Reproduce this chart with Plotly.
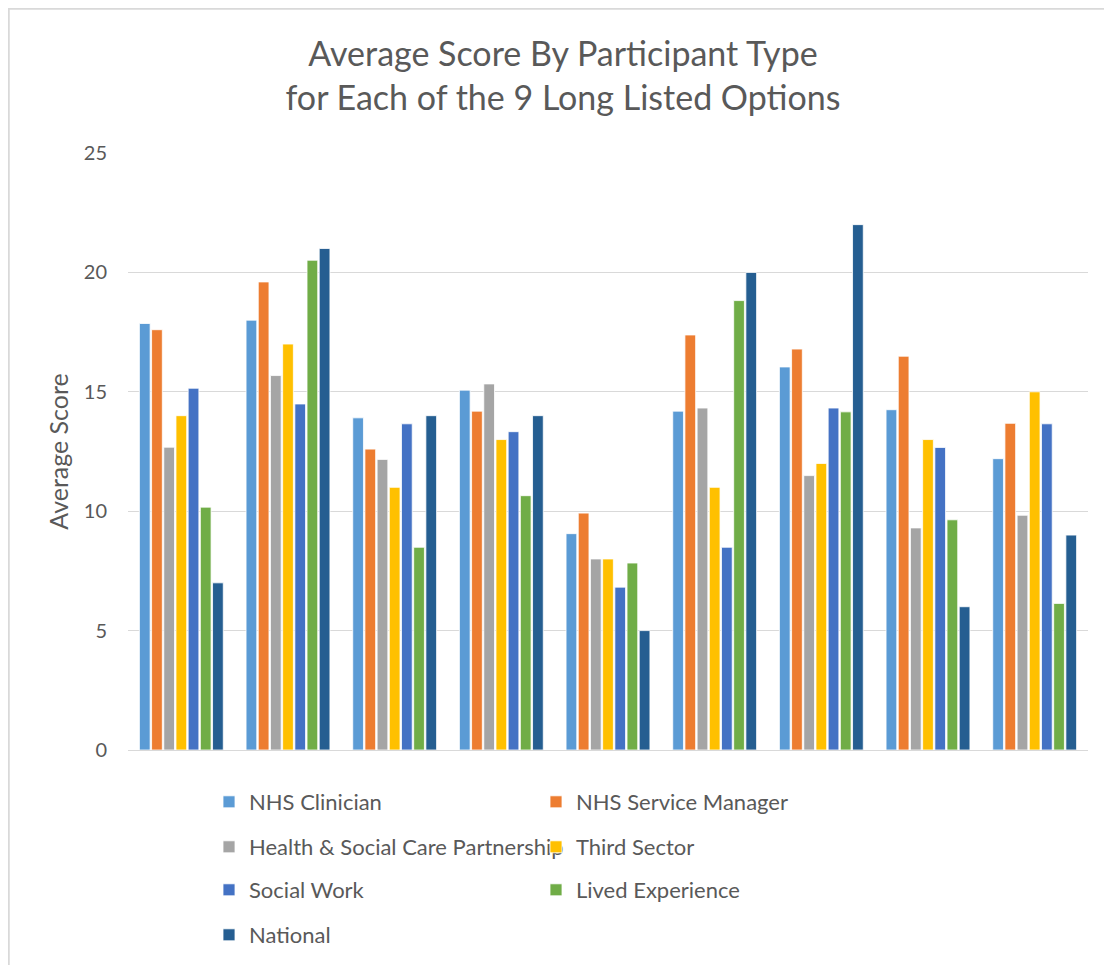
import plotly.graph_objects as go

options = ["Option 1", "Option 2", "Option 3", "Option 4", "Option 5",
           "Option 6", "Option 7", "Option 8", "Option 9"]

nhs_clinician = [17.86, 18.0, 13.91, 15.07, 9.06, 14.19, 16.04, 14.25, 12.2]
nhs_service_manager = [17.6, 19.6, 12.6, 14.19, 9.92, 17.38, 16.79, 16.49, 13.68]
hscp = [12.68, 15.68, 12.17, 15.33, 8.0, 14.32, 11.49, 9.3, 9.83]
third_sector = [14.0, 17.0, 11.0, 13.0, 8.0, 11.0, 12.0, 13.0, 15.0]
social_work = [15.15, 14.49, 13.66, 13.33, 6.82, 8.49, 14.32, 12.67, 13.66]
lived_experience = [10.17, 20.51, 8.49, 10.65, 7.83, 18.82, 14.16, 9.64, 6.14]
national = [7.0, 21.0, 14.0, 14.0, 5.0, 20.0, 22.0, 6.0, 9.0]

series_names = ["NHS Clinician", "NHS Service Manager", "Health & Social Care Partnership",
                "Third Sector", "Social Work", "Lived Experience", "National"]
series_values = [nhs_clinician, nhs_service_manager, hscp, third_sector,
                 social_work, lived_experience, national]
colors = ["#5B9BD5", "#ED7D31", "#A5A5A5", "#FFC000", "#4472C4", "#70AD47", "#255E91"]

FONT = "Lato, 'Open Sans', sans-serif"
TXT = "#595959"

# The page body has an 8px margin; work in page pixels and convert.
OFF = 8
W, H = 1112 - OFF, 965 - OFF
L = 128 - OFF
T = 153 - OFF
R = W - (1088 - OFF)
B = H - (750 - OFF)
PW, PH = W - L - R, H - T - B

def px_x(x):  # page px -> paper
    return (x - OFF - L) / PW

def px_y(y):
    return (H - B - (y - OFF)) / PH

fig = go.Figure()
legend_ids = ["legend", "legend2", "legend3", "legend4", "legend5", "legend6", "legend7"]
for name, vals, col, lid in zip(series_names, series_values, colors, legend_ids):
    fig.add_trace(go.Bar(
        name=name, x=options, y=vals,
        marker=dict(color=col, line=dict(color="white", width=0.8)),
        legend=lid, showlegend=True,
    ))

# legend placement: two columns, four rows (page px)
col_x = [209, 536]
row_y = [802, 847, 890, 935]
legend_layout = {}
for i, lid in enumerate(legend_ids):
    c = i % 2
    r = i // 2
    legend_layout[lid] = dict(
        x=px_x(col_x[c]), y=px_y(row_y[r]), xanchor="left", yanchor="middle",
        orientation="h", bgcolor="rgba(0,0,0,0)", borderwidth=0,
        font=dict(family=FONT, size=22, color=TXT), itemwidth=30,
    )

fig.update_layout(
    width=W, height=H,
    margin=dict(l=L, r=R, t=T, b=B, autoexpand=False),
    paper_bgcolor="white", plot_bgcolor="white",
    showlegend=True,
    barmode="group", bargap=0.2, bargroupgap=0.12,
    title=dict(
        text="Average Score By Participant Type<br>for Each of the 9 Long Listed Options",
        x=(563 - OFF) / W, xanchor="center", y=1 - 58 / H, yanchor="middle",
        font=dict(family=FONT, size=34, color=TXT),
    ),
    xaxis=dict(showticklabels=False, showgrid=False, zeroline=False, showline=False, ticks=""),
    yaxis=dict(
        range=[0, 25], dtick=5, tick0=0, automargin=False,
        showgrid=True, gridcolor="#D9D9D9", gridwidth=1.3,
        zeroline=True, zerolinecolor="#D9D9D9", zerolinewidth=1.3,
        showline=False, ticks="", ticklabelstandoff=20,
        tickfont=dict(family=FONT, size=20, color=TXT),
        title=dict(text="Average Score", standoff=8,
                   font=dict(family=FONT, size=25, color=TXT)),
    ),
    shapes=[
        dict(type="line", xref="paper", yref="paper",
             x0=px_x(OFF), x1=px_x(1120), y0=px_y(OFF + 0.5), y1=px_y(OFF + 0.5),
             line=dict(color="#D9D9D9", width=2.5)),
        dict(type="line", xref="paper", yref="paper",
             x0=px_x(OFF + 0.5), x1=px_x(OFF + 0.5), y0=px_y(OFF), y1=px_y(980),
             line=dict(color="#D9D9D9", width=2.5)),
    ],
    **legend_layout,
)

fig.write_html("out.html")
